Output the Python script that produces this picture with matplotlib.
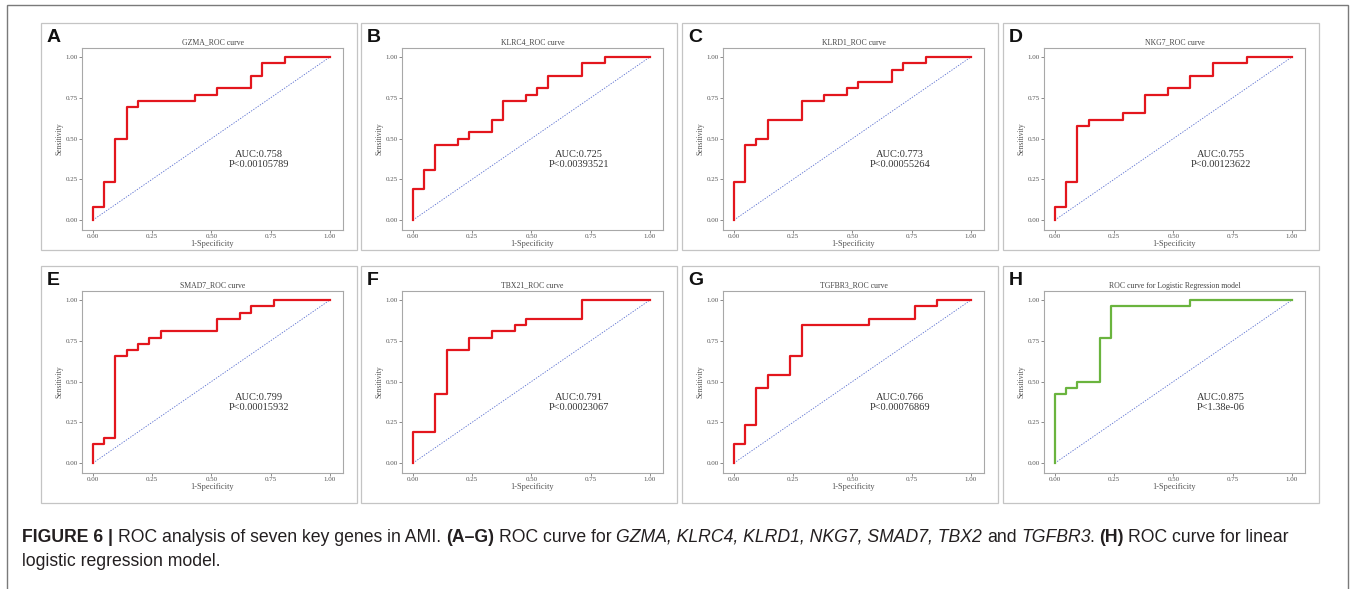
import matplotlib
matplotlib.use("Agg")
import matplotlib.pyplot as plt
from matplotlib.patches import Rectangle

W, H = 1357, 589

letters = ["A", "B", "C", "D", "E", "F", "G", "H"]
titles = ["GZMA_ROC curve", "KLRC4_ROC curve", "KLRD1_ROC curve", "NKG7_ROC curve",
          "SMAD7_ROC curve", "TBX21_ROC curve", "TGFBR3_ROC curve",
          "ROC curve for Logistic Regression model"]
auc = ["0.758", "0.725", "0.773", "0.755", "0.799", "0.791", "0.766", "0.875"]
pval = ["0.00105789", "0.00393521", "0.00055264", "0.00123622",
        "0.00015932", "0.00023067", "0.00076869", "1.38e-06"]

# ROC staircases: right end of each horizontal run (fpr) and its level (tpr)
fpr_a = [0, .048, .095, .143, .190, .429, .524, .667, .714, .810, 1]
tpr_a = [0, .077, .231, .500, .692, .731, .769, .808, .885, .962, 1]
fpr_b = [0, .048, .095, .190, .238, .333, .381, .476, .524, .571, .714, .810, 1]
tpr_b = [0, .192, .308, .462, .500, .538, .615, .731, .769, .808, .885, .962, 1]
fpr_c = [0, .048, .095, .143, .286, .381, .476, .524, .667, .714, .810, 1]
tpr_c = [0, .231, .462, .500, .615, .731, .769, .808, .846, .923, .962, 1]
fpr_d = [0, .048, .095, .143, .286, .381, .476, .571, .667, .810, 1]
tpr_d = [0, .077, .231, .577, .615, .654, .769, .808, .885, .962, 1]
fpr_e = [0, .048, .095, .143, .190, .238, .286, .524, .619, .667, .762, 1]
tpr_e = [0, .115, .154, .654, .692, .731, .769, .808, .885, .923, .962, 1]
fpr_f = [0, .095, .143, .238, .333, .429, .476, .714, 1]
tpr_f = [0, .192, .423, .692, .769, .808, .846, .885, 1]
fpr_g = [0, .048, .095, .143, .238, .286, .571, .762, .857, 1]
tpr_g = [0, .115, .231, .462, .538, .654, .846, .885, .962, 1]
fpr_h = [0, .048, .095, .190, .238, .571, 1]
tpr_h = [0, .423, .462, .500, .769, .962, 1]

curves = [(fpr_a, tpr_a), (fpr_b, tpr_b), (fpr_c, tpr_c), (fpr_d, tpr_d),
          (fpr_e, tpr_e), (fpr_f, tpr_f), (fpr_g, tpr_g), (fpr_h, tpr_h)]
colors = ["#e3161d"] * 7 + ["#6ab43e"]

ticks = [0, 0.25, 0.5, 0.75, 1.0]
tick_labels = ["0.00", "0.25", "0.50", "0.75", "1.00"]

SERIF = "Liberation Serif"
SANS = "Liberation Sans"


def fx(px):
    return px / W


def fy(py):
    return 1 - py / H


fig = plt.figure(figsize=(W / 100, H / 100), dpi=100)

# outer frame of the figure
fig.add_artist(Rectangle((fx(7), fy(600)), (1348 - 7) / W, (600 - 5) / H,
                         transform=fig.transFigure, fill=False,
                         ec="#7a7a7a", lw=1.0))

col_left = [41, 361, 682, 1003]
row_top = [23, 266]
row_bottom = [250, 503]

for i in range(8):
    r, c = divmod(i, 4)
    pl, pt, pb = col_left[c], row_top[r], row_bottom[r]
    fig.add_artist(Rectangle((fx(pl), fy(pb)), 316 / W, (pb - pt) / H,
                             transform=fig.transFigure, fill=False,
                             ec="#c4c4c4", lw=0.9))
    fig.text(fx(pl + 6), fy(pt + 6), letters[i], fontsize=14, weight="bold",
             family=SANS, va="top", ha="left", color="#111111")

    ax = fig.add_axes([fx(pl + 41), fy(pt + 25 + 182), 261 / W, 182 / H])
    ax.plot([0, 1], [0, 1], color="#5a6fd0", lw=0.6, ls=(0, (1.6, 1.6)))
    fpr, tpr = curves[i]
    ax.plot(fpr, tpr, drawstyle="steps-pre", color=colors[i], lw=1.6)
    ax.set_xlim(-0.046, 1.055)
    ax.set_ylim(-0.061, 1.055)
    ax.set_xticks(ticks, tick_labels)
    ax.set_yticks(ticks, tick_labels)
    ax.tick_params(length=2, width=0.6, color="#777777", labelsize=5,
                   labelcolor="#555555", pad=0.8)
    for lab in ax.get_xticklabels() + ax.get_yticklabels():
        lab.set_family(SERIF)
    for s in ax.spines.values():
        s.set_color("#a8a8a8")
        s.set_linewidth(0.8)
    ax.set_title(titles[i], fontsize=5.6, pad=2.5, color="#444444", family=SERIF)
    ax.set_xlabel("1-Specificity", fontsize=6, labelpad=0.5, color="#555555", family=SERIF)
    ax.set_ylabel("Sensitivity", fontsize=5.5, labelpad=1.5, color="#555555", family=SERIF)
    ax.text(0.70, 0.40, "AUC:" + auc[i], ha="center", va="center",
            fontsize=7.5, family=SERIF, color="#333333")
    ax.text(0.70, 0.34, "P<" + pval[i], ha="center", va="center",
            fontsize=7.5, family=SERIF, color="#333333")

# caption, drawn piece by piece so bold/italic runs line up
cap = fig.add_axes([0, 0, 1, 1])
cap.axis("off")
cap.set_xlim(0, 1)
cap.set_ylim(0, 1)

CAP_SIZE = 12.7
CAP_COLOR = "#231f20"
space = 0.278 * CAP_SIZE

pieces = [
    ("FIGURE 6 |", "bold", 0),
    ("ROC analysis of seven key genes in AMI.", "normal", space),
    ("(A\u2013G)", "bold", space),
    ("ROC curve for", "normal", space),
    ("GZMA, KLRC4, KLRD1, NKG7, SMAD7, TBX2", "italic", space),
    ("and", "normal", space),
    ("TGFBR3", "italic", space),
    (".", "normal", -1.5),
    ("(H)", "bold", space),
    ("ROC curve for linear", "normal", space),
]

prev = None
for text, style, gap in pieces:
    kw = dict(fontsize=CAP_SIZE, family=SANS, color=CAP_COLOR, va="bottom", ha="left")
    if style == "bold":
        kw["weight"] = "bold"
    if style == "italic":
        kw["style"] = "italic"
    if prev is None:
        prev = cap.text(fx(22), fy(546), text, **kw)
    else:
        prev = cap.annotate(text, xy=(1, 0), xycoords=prev, xytext=(gap, 0),
                            textcoords="offset points", **kw)

cap.text(fx(22), fy(570), "logistic regression model.", fontsize=CAP_SIZE,
         family=SANS, color=CAP_COLOR, va="bottom", ha="left")

fig.savefig("out.png", dpi=100)
